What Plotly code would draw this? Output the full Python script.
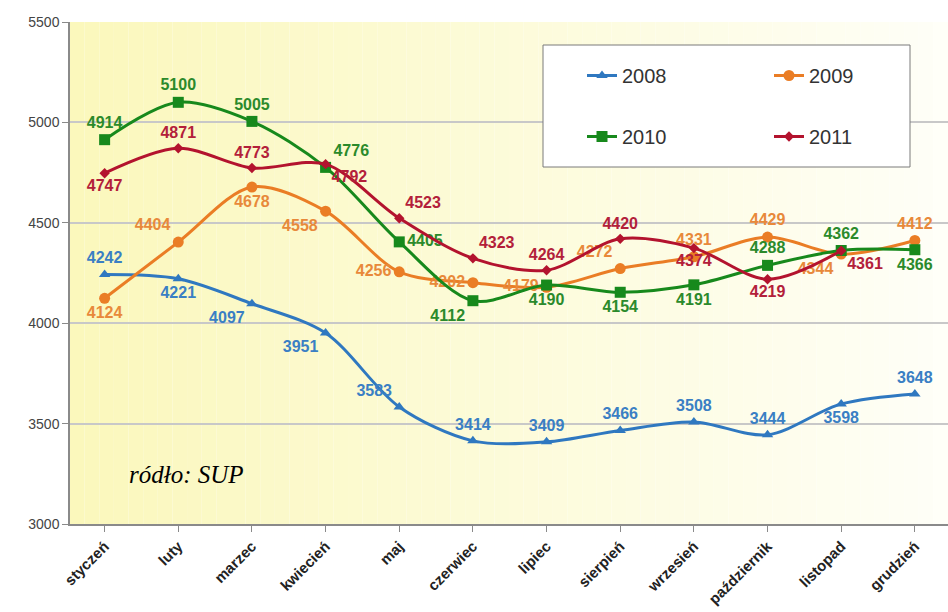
import plotly.graph_objects as go

months = ["styczeń", "luty", "marzec", "kwiecień", "maj", "czerwiec", "lipiec",
          "sierpień", "wrzesień", "październik", "listopad", "grudzień"]
y2008 = [4242, 4221, 4097, 3951, 3583, 3414, 3409, 3466, 3508, 3444, 3598, 3648]
y2009 = [4124, 4404, 4678, 4558, 4256, 4202, 4179, 4272, 4331, 4429, 4344, 4412]
y2010 = [4914, 5100, 5005, 4776, 4405, 4112, 4190, 4154, 4191, 4288, 4362, 4366]
y2011 = [4747, 4871, 4773, 4792, 4523, 4323, 4264, 4420, 4374, 4219, 4361, None]

pos2008 = ["top center", "bottom center", "bottom left", "bottom left", "top left",
           "top center", "top center", "top center", "top center", "top center",
           "bottom center", "top center"]
pos2009 = ["bottom center", "top left", "bottom center", "bottom left", "middle left",
           "middle left", "middle left", "top left", "top center", "top center",
           "bottom left", "top center"]
pos2010 = ["top center", "top center", "top center", "top right", "middle right",
           "bottom left", "bottom center", "bottom center", "bottom center",
           "top center", "top center", "bottom center"]
pos2011 = ["bottom center", "top center", "top center", "bottom right", "top right",
           "top right", "top center", "top center", "bottom center", "bottom center",
           "bottom right", "top center"]

series = [
    ("2008", y2008, pos2008, "#2f78c0", "#3a7fc4", "triangle-up", 10, "legend"),
    ("2009", y2009, pos2009, "#ea7d25", "#e8893a", "circle", 11, "legend2"),
    ("2010", y2010, pos2010, "#17891c", "#2b8a2b", "square", 11, "legend"),
    ("2011", y2011, pos2011, "#b3132e", "#b3203a", "diamond", 8, "legend2"),
]

fig = go.Figure()

# gradient background of plot area
n = 60
for i in range(n):
    t = i / (n - 1)
    r = int(251 + (255 - 251) * t)
    g = int(248 + (255 - 248) * t)
    b = int(188 + (248 - 188) * t)
    fig.add_shape(type="rect", xref="x domain", yref="y domain",
                  x0=i / n, x1=(i + 1) / n, y0=0, y1=1,
                  fillcolor=f"rgb({r},{g},{b})", line_width=0, layer="below")

for name, ys, pos, lc, tc, sym, ms, lg in series:
    fig.add_trace(go.Scatter(
        x=months, y=ys, name=name, mode="lines+markers+text",
        text=[str(v) if v is not None else "" for v in ys],
        textposition=pos,
        textfont=dict(family="Arial, Liberation Sans", size=16, color=tc, weight="bold"),
        line=dict(color=lc, width=3, shape="spline", smoothing=0.9),
        marker=dict(symbol=sym, size=ms, color=lc),
        legend=lg, legendgroup=name,
        connectgaps=False,
    ))

# legend box
fig.add_shape(type="rect", xref="paper", yref="paper",
              x0=(543 - 70) / 878, x1=(910 - 70) / 878,
              y0=(524 - 167) / 502, y1=(524 - 45) / 502,
              fillcolor="white", line=dict(color="#7a7a7a", width=1), layer="above")

legend_common = dict(
    font=dict(family="Arial, Liberation Sans", size=20, color="#333333"),
    bgcolor="rgba(0,0,0,0)", tracegroupgap=32, orientation="v",
    xanchor="left", yanchor="top", itemwidth=30,
)
fig.update_layout(
    legend=dict(x=(582 - 70) / 878, y=(524 - 56) / 502, **legend_common),
    legend2=dict(x=(769 - 70) / 878, y=(524 - 56) / 502, **legend_common),
)

fig.add_annotation(text="ródło: SUP", xref="paper", yref="paper",
                   x=(127 - 70) / 878, y=(524 - 474) / 502, xanchor="left", yanchor="middle",
                   showarrow=False,
                   font=dict(family="Liberation Serif, DejaVu Serif", size=25, color="black",
                             style="italic"))

fig.update_layout(
    width=948, height=612,
    margin=dict(l=70, r=0, t=22, b=88),
    paper_bgcolor="white", plot_bgcolor="white",
    showlegend=True,
    xaxis=dict(type="category", range=[-0.47, 11.45], showgrid=False,
               showline=True, linecolor="#8a8a8a", linewidth=1.5,
               ticks="outside", ticklen=6, tickcolor="#8a8a8a",
               tickangle=-45,
               tickfont=dict(family="Arial, Liberation Sans", size=15, color="#222222",
                             weight="bold")),
    yaxis=dict(range=[3000, 5500], dtick=500, showgrid=True, gridcolor="#c8c8c8",
               gridwidth=1.5, showline=True, linecolor="#8a8a8a", linewidth=1.5,
               ticks="outside", ticklen=6, tickcolor="#8a8a8a", zeroline=False,
               tickfont=dict(family="Arial, Liberation Sans", size=14, color="#444444")),
)

fig.write_html("out.html")
